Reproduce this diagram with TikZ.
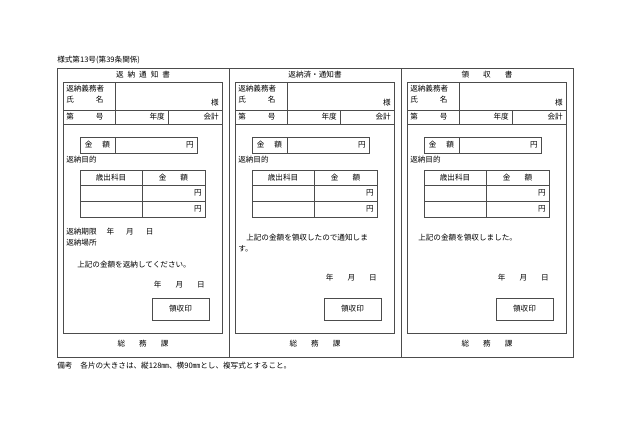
\documentclass[tikz,border=0pt]{standalone}
\usepackage{fontspec}
\newfontfamily\jp{Noto Sans CJK JP}
\begin{document}
\begin{tikzpicture}[x=1pt,y=-1pt,line width=0.5pt,draw=black!70,
  t/.style={font=\jp\fontsize{7.6}{8}\selectfont,inner sep=0pt,text=black},
  tl/.style={t,anchor=west},tr/.style={t,anchor=east}]
\useasboundingbox (0,0) rectangle (630,439);
\node[tl] (hdr) at (57,60) {様式第13号(第39条関係)};
\draw (57,68) rectangle (573,357);
\draw (229,68) -- (229,357) (401,68) -- (401,357);
\foreach \o/\ti in {0/{返\hspace{4pt}納\hspace{4pt}通\hspace{4pt}知\hspace{4pt}書},172/{返納済・通知書},344/{領\hspace{14pt}収\hspace{14pt}書}}{
  \begin{scope}[xshift=\o]
  \node[t] at (143,75) {\ti};
  \draw (63,82) rectangle (222,333);
  \draw (63,110) -- (222,110) (63,124) -- (222,124);
  \draw (115,82) -- (115,124) (168,110) -- (168,124);
  \node[tl] at (66,89) {返納義務者};
  \node[tl] at (66,100) {氏\hspace{22pt}名};
  \node[tr] at (219,103) {様};
  \node[tl] at (66,117) {第\hspace{22pt}号};
  \node[tr] at (165,117) {年度};
  \node[tr] at (219,117) {会計};
  \draw (80,137) rectangle (197,153) (115,137) -- (115,153);
  \node[t] at (97.5,145) {金\hspace{10pt}額};
  \node[tr] at (194,145) {円};
  \node[tl] at (66,160) {返納目的};
  \draw (80,170) rectangle (205,217) (80,185) -- (205,185) (80,201) -- (205,201) (142,170) -- (142,217);
  \node[t] at (111,177.5) {歳出科目};
  \node[t] at (173.5,177.5) {金\hspace{14pt}額};
  \node[tr] at (202,193) {円};
  \node[tr] at (202,209) {円};
  \draw (152,298) rectangle (209,320);
  \node[t] at (180.5,309) {領収印};
  \node[t] at (143,344) {総\hspace{14pt}務\hspace{14pt}課};
  \end{scope}
}
\node[tl] at (66,232) {返納期限\hspace{10pt}年\hspace{12pt}月\hspace{12pt}日};
\node[tl] at (66,243) {返納場所};
\node[tl] at (77,265) {上記の金額を返納してください。};
\node[tr] at (205,285) {年\hspace{14pt}月\hspace{14pt}日};
\node[tl] at (246,238) {上記の金額を領収したので通知しま};
\node[tl] at (238,249) {す。};
\node[tr] at (377,278) {年\hspace{14pt}月\hspace{14pt}日};
\node[tl] at (418,238) {上記の金額を領収しました。};
\node[tr] at (549,278) {年\hspace{14pt}月\hspace{14pt}日};
\node[tl] (foot) at (57,366) {備考\hspace{8pt}各片の大きさは、縦128㎜、横90㎜とし、複写式とすること。};
\end{tikzpicture}
\end{document}
